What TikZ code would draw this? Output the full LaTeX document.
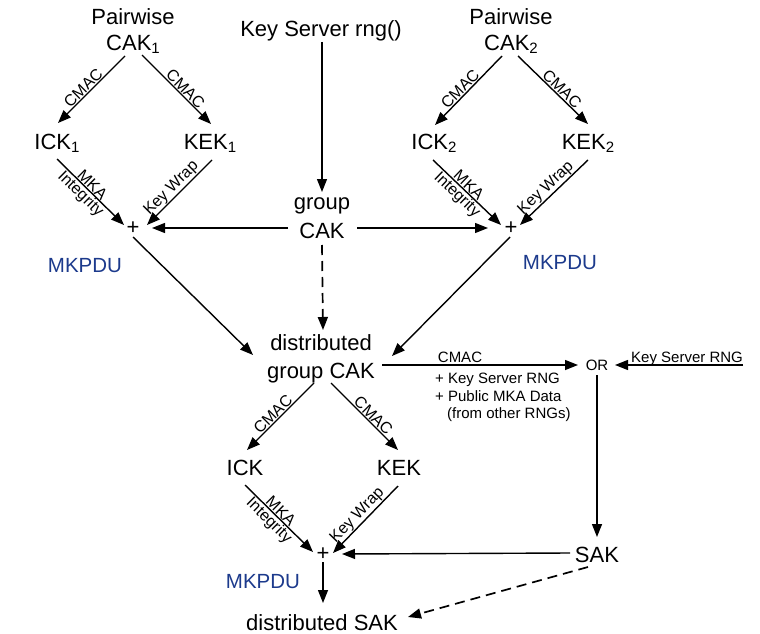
\documentclass[tikz,border=0pt]{standalone}
\usepackage{fontspec}
\setmainfont{Liberation Sans}
\usetikzlibrary{arrows.meta,calc}
\definecolor{mkblue}{RGB}{28,58,140}
\newcommand{\lowsub}[1]{\raisebox{-3pt}{\fontsize{15}{15}\selectfont #1}}
\begin{document}
\begin{tikzpicture}[x=1pt,y=-1pt,
  big/.style={font=\fontsize{22}{26}\selectfont, inner sep=0pt, anchor=base},
  small/.style={font=\fontsize{15}{18}\selectfont, inner sep=0pt, anchor=base},
  plusn/.style={font=\fontsize{22}{26}\selectfont, inner sep=0pt, anchor=center},
  mk/.style={big, text=mkblue, font=\fontsize{20.5}{24}\selectfont},
  conn/.style={line width=1.4pt, -{Triangle[length=13pt,width=10pt]}},
  dconn/.style={conn, line width=1.7pt, dash pattern=on 10pt off 6pt},
  lab/.style={font=\fontsize{16}{18}\selectfont, sloped, inner sep=0.6pt},
]
\useasboundingbox (0,0) rectangle (760,634);
% nodes
\node[big] (pw1) at (133,25) {Pairwise};
\node[big] (cak1) at (133,51) {CAK\lowsub{1}};
\node[big] (ks) at (321,37) {Key Server rng()};
\node[big] (pw2) at (511,25) {Pairwise};
\node[big] (cak2) at (511,51) {CAK\lowsub{2}};
\node[big] (ick1) at (57,149) {ICK\lowsub{1}};
\node[big] (kek1) at (210,149) {KEK\lowsub{1}};
\node[big] (ick2) at (434,149) {ICK\lowsub{2}};
\node[big] (kek2) at (588,149) {KEK\lowsub{2}};
\node[big] (grp) at (322,209) {group};
\node[big] (gcak) at (322,238) {CAK};
\node[plusn] (plus1) at (133,228) {+};
\node[plusn] (plus2) at (511,228) {+};
\node[mk] (mk1) at (85,272) {MKPDU};
\node[mk] (mk2) at (560,269) {MKPDU};
\node[big] (dist) at (321,350) {distributed};
\node[big] (dgc) at (321,378) {group CAK};
\node[small] (or) at (597,370) {OR};
\node[small] (ksr) at (687,362) {Key Server RNG};
\node[small] (cmac) at (460,362) {CMAC};
\node[small, anchor=base west] (t1) at (435,383) {+ Key Server RNG};
\node[small, anchor=base west] (t2) at (435,401) {+ Public MKA Data};
\node[small, anchor=base west] (t3) at (447,418) {(from other RNGs)};
\node[big] (ick) at (245,475) {ICK};
\node[big] (kek) at (399,475) {KEK};
\node[plusn] (plus3) at (323,554) {+};
\node[big] (sak) at (597,562) {SAK};
\node[mk] (mk3) at (263,588) {MKPDU};
\node[big] (dsak) at (322,630) {distributed SAK};
% left cluster
\draw[conn] ($(cak1.base)+(-8,5)$) -- node[lab,above,pos=.55]{CMAC} ($(ick1.base)+(1,-26)$);
\draw[conn] ($(cak1.base)+(9,4)$) -- node[lab,above,pos=.56]{CMAC} ($(kek1.base)+(1,-25)$);
\draw[conn] ($(ick1.base)+(0,10)$) -- node[lab,above,pos=.46]{MKA} node[lab,below,pos=.44]{Integrity} ($(plus1)+(-9,-3)$);
\draw[conn] ($(kek1.base)+(2,11)$) -- node[lab,above,pos=.53]{Key Wrap} ($(plus1)+(14,-3)$);
% right cluster
\draw[conn] ($(cak2.base)+(-9,5)$) -- node[lab,above,pos=.55]{CMAC} ($(ick2.base)+(1,-24)$);
\draw[conn] ($(cak2.base)+(7,5)$) -- node[lab,above,pos=.56]{CMAC} ($(kek2.base)+(0,-25)$);
\draw[conn] ($(ick2.base)+(-1,11)$) -- node[lab,above,pos=.46]{MKA} node[lab,below,pos=.44]{Integrity} ($(plus2)+(-10,-3)$);
\draw[conn] ($(kek2.base)+(0,11)$) -- node[lab,above,pos=.53]{Key Wrap} ($(plus2)+(9,-3)$);
% group CAK
\draw[conn] ($(ks.base)+(1,5)$) -- ($(grp.base)+(0,-17)$);
\draw[conn] ($(gcak.base)+(-34,-10)$) -- ($(plus1)+(19,0)$);
\draw[conn] ($(gcak.base)+(35,-10)$) -- ($(plus2)+(-23,0)$);
\draw[dconn] ($(gcak.base)+(0,7)$) -- ($(dist.base)+(2,-20)$);
\draw[conn] ($(plus1)+(0,9)$) -- ($(dist.base)+(-68,5)$);
\draw[conn] ($(plus2)+(-1,9)$) -- ($(dist.base)+(71,6)$);
% distributed group CAK
\draw[conn] ($(dgc.base)+(61,-13)$) -- ($(or.base)+(-19,-5)$);
\draw[conn] ($(ksr.base)+(56,3)$) -- ($(or.base)+(18,-5)$);
\draw[conn] ($(or.base)+(0,5)$) -- ($(sak.base)+(0,-25)$);
\draw[conn] ($(dgc.base)+(-7,5)$) -- node[lab,above,pos=.54]{CMAC} ($(ick.base)+(2,-25)$);
\draw[conn] ($(dgc.base)+(10,5)$) -- node[lab,above,pos=.56]{CMAC} ($(kek.base)+(-1,-25)$);
% bottom cluster
\draw[conn] ($(ick.base)+(0,10)$) -- node[lab,above,pos=.46]{MKA} node[lab,below,pos=.44]{Integrity} ($(plus3)+(-10,-2)$);
\draw[conn] ($(kek.base)+(-1,11)$) -- node[lab,above,pos=.53]{Key Wrap} ($(plus3)+(10,-1)$);
\draw[conn] ($(sak.base)+(-27,-9)$) -- ($(plus3)+(19,0)$);
\draw[conn] ($(plus3)+(0,8)$) -- ($(dsak.base)+(1,-27)$);
\draw[dconn] ($(sak.base)+(-9,5)$) -- ($(dsak.base)+(86,-13)$);
\end{tikzpicture}
\end{document}
